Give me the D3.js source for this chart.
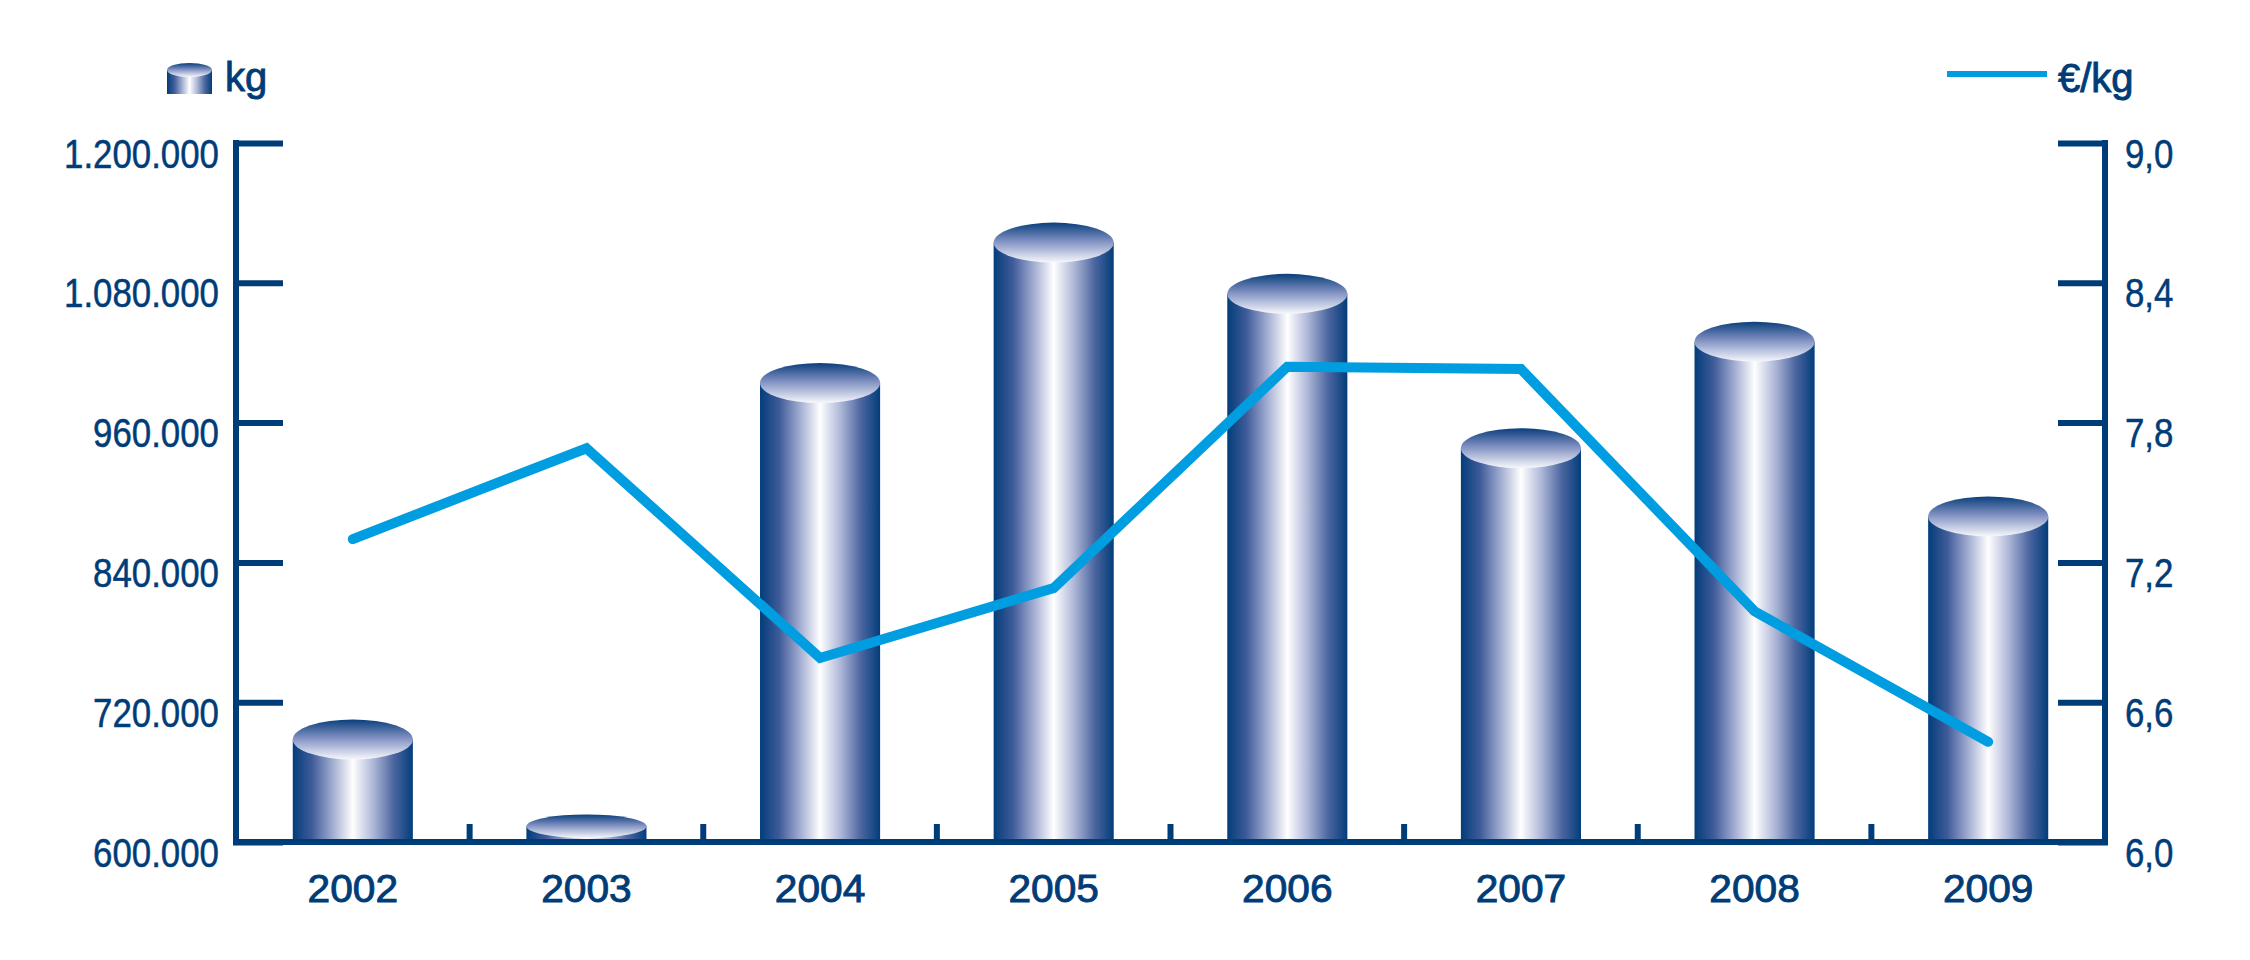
<!DOCTYPE html>
<html><head><meta charset="utf-8">
<script src="https://cdn.jsdelivr.net/npm/d3@7"></script>
<style>body{margin:0;background:#fff}svg{display:block}</style>
</head><body>
<svg id="c" width="2250" height="960"></svg>
<script>
// ---- data ----
const years = ["2002","2003","2004","2005","2006","2007","2008","2009"];
const kgValues = [688000, 613500, 994000, 1114500, 1070500, 938000, 1029500, 879500];
const priceValues = [7.30, 7.69, 6.79, 7.09, 8.04, 8.03, 6.99, 6.43];
const kgTicks = [600000, 720000, 840000, 960000, 1080000, 1200000];
const priceTicks = [6.0, 6.6, 7.2, 7.8, 8.4, 9.0];
const legendLabels = ["kg", "€/kg"];

// ---- style ----
const NAVY = "#003c78", CYAN = "#009ee0";
const FONT = "'Liberation Sans', Arial, Helvetica, sans-serif";
const L = 236, R = 2105, T = 143, B = 842;

const loc = d3.formatLocale({decimal: ",", thousands: ".", grouping: [3], currency: ["", "€"]});
const fmtKg = loc.format(",.0f"), fmtP = loc.format(".1f");

const svg = d3.select("#c");
const defs = svg.append("defs");
const sideGrad = defs.append("linearGradient").attr("id", "side").attr("x1", 0).attr("x2", 1).attr("y1", 0).attr("y2", 0);
[[0,"#023d7a"],[0.16,"#3f5b99"],[0.33,"#a0abd0"],[0.5,"#ffffff"],[0.67,"#aeb7d7"],[0.84,"#4c66a0"],[1,"#023d7a"]]
  .forEach(([o,c]) => sideGrad.append("stop").attr("offset", o).attr("stop-color", c));
const topGrad = defs.append("linearGradient").attr("id", "topg").attr("x1", 0).attr("x2", 0).attr("y1", 0).attr("y2", 1);
[[0,"#0a3f7c"],[0.45,"#7d8ec0"],[1,"#f7f8fc"]]
  .forEach(([o,c]) => topGrad.append("stop").attr("offset", o).attr("stop-color", c));

const x = d3.scaleBand().domain(years).range([L, R]).paddingInner(0.486).paddingOuter(0.243);
const yL = d3.scaleLinear().domain([600000, 1200000]).range([B, T]);
const yR = d3.scaleLinear().domain([6, 9]).range([B, T]);

// ---- cylinders ----
const bars = svg.append("g");
years.forEach((yr, i) => {
  const x0 = x(yr), w = x.bandwidth(), yt = yL(kgValues[i]);
  const ry = Math.min(20, (B - yt) * 0.75), rx = w / 2;
  bars.append("rect").attr("x", x0).attr("y", yt).attr("width", w).attr("height", B - yt).attr("fill", "url(#side)");
  bars.append("ellipse").attr("cx", x0 + rx).attr("cy", yt).attr("rx", rx).attr("ry", ry).attr("fill", "url(#topg)");
});

// ---- line ----
const line = d3.line().x((d, i) => x(years[i]) + x.bandwidth() / 2).y(d => yR(d));
svg.append("path").datum(priceValues).attr("d", line)
  .attr("fill", "none").attr("stroke", CYAN).attr("stroke-width", 10)
  .attr("stroke-linecap", "round").attr("stroke-linejoin", "miter");

// ---- axes ----
function styleAxis(g, side) {
  g.select(".domain").remove();
  g.selectAll(".tick line").attr("stroke", NAVY).attr("stroke-width", 6)
    .attr("x1", side === "left" ? -3 : 3);
  g.selectAll(".tick text").attr("fill", NAVY).attr("dy", null).attr("x", null)
    .attr("stroke", NAVY).attr("stroke-width", 0.5)
    .style("font-family", FONT).style("font-size", "41px")
    .attr("text-anchor", side === "left" ? "end" : "start")
    .attr("transform", side === "left" ? "translate(-17,24) scale(0.85,1)" : "translate(20,24) scale(0.85,1)");
}
const gl = svg.append("g").attr("transform", `translate(${L},0)`)
  .call(d3.axisLeft(yL).tickValues(kgTicks).tickFormat(fmtKg).tickSizeInner(-47).tickSizeOuter(0));
styleAxis(gl, "left");
const gr = svg.append("g").attr("transform", `translate(${R},0)`)
  .call(d3.axisRight(yR).tickValues(priceTicks).tickFormat(fmtP).tickSizeInner(-47).tickSizeOuter(0));
styleAxis(gr, "right");

const gb = svg.append("g").attr("transform", `translate(0,${B})`)
  .call(d3.axisBottom(x).tickSize(0));
gb.select(".domain").remove();
gb.selectAll(".tick text").attr("fill", NAVY).attr("dy", null).attr("y", 60)
  .attr("stroke", NAVY).attr("stroke-width", 0.9)
  .style("font-family", FONT).style("font-size", "38px")
  .attr("transform", "scale(1.07,1)");

// separators between categories
const seps = years.slice(0, -1).map(yr => x(yr) + x.bandwidth() / 2 + x.step() / 2);
svg.append("g").selectAll("line").data(seps).join("line")
  .attr("x1", d => d).attr("x2", d => d).attr("y1", B - 18).attr("y2", B)
  .attr("stroke", NAVY).attr("stroke-width", 6);

// frame lines
const frame = svg.append("g").attr("stroke", NAVY).attr("stroke-width", 6).attr("stroke-linecap", "square").attr("fill", "none");
frame.append("line").attr("x1", L).attr("x2", L).attr("y1", T).attr("y2", B);
frame.append("line").attr("x1", R).attr("x2", R).attr("y1", T).attr("y2", B);
frame.append("line").attr("x1", L).attr("x2", R).attr("y1", B).attr("y2", B);

// ---- legend ----
const lg = svg.append("g");
lg.append("rect").attr("x", 167).attr("y", 70).attr("width", 45).attr("height", 24).attr("fill", "url(#side)");
lg.append("ellipse").attr("cx", 189.5).attr("cy", 70).attr("rx", 22.5).attr("ry", 7).attr("fill", "url(#topg)");
lg.append("text").attr("x", 225).attr("y", 91).text(legendLabels[0])
  .attr("fill", NAVY).attr("stroke", NAVY).attr("stroke-width", 0.9)
  .style("font-family", FONT).style("font-size", "40px");
lg.append("line").attr("x1", 1947).attr("x2", 2047).attr("y1", 74).attr("y2", 74)
  .attr("stroke", CYAN).attr("stroke-width", 6);
lg.append("text").attr("x", 2058).attr("y", 92).text(legendLabels[1])
  .attr("fill", NAVY).attr("stroke", NAVY).attr("stroke-width", 0.9)
  .style("font-family", FONT).style("font-size", "40px");
</script>
</body></html>
